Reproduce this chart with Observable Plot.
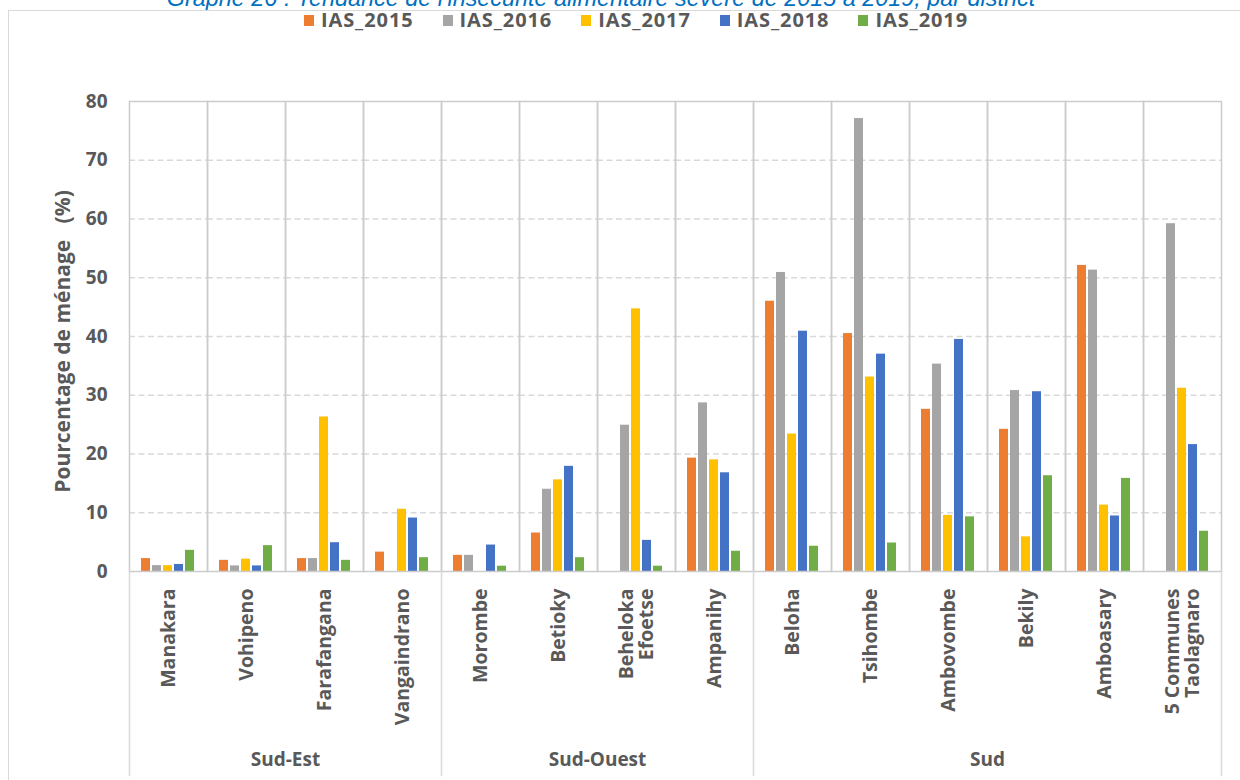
<!DOCTYPE html>
<html>
<head>
<meta charset="utf-8">
<script src="https://cdn.jsdelivr.net/npm/d3@7"></script>
<script src="https://cdn.jsdelivr.net/npm/@observablehq/plot@0.6"></script>
<style>
  html, body { margin: 0; padding: 0; background: #fff; }
  body { width: 1240px; height: 780px; overflow: hidden; position: relative; font-family: "Open Sans", sans-serif; }
  #title { position: absolute; top: -11px; left: 0; width: 1202px; text-align: center; font-family: "Liberation Sans", Arial, sans-serif; font-style: italic; font-size: 23.4px; line-height: 18px; color: #0070c0; white-space: nowrap; }
  #frame { position: absolute; top: 10px; left: 8px; width: 1300px; height: 900px; border: 1.5px solid #d9d9d9; box-sizing: border-box; }
  #legend { position: absolute; top: 11px; left: 32px; width: 1208px; display: flex; justify-content: center; align-items: center; height: 18px; line-height: 18px; font-weight: 700; font-size: 20px; letter-spacing: 0.9px; color: #595959; }
  #legend .item { display: flex; align-items: center; margin-right: 29px; }
  #legend .item:last-child { margin-right: 0; }
  #legend .sw { width: 10px; height: 11px; margin-right: 7px; }
  #chart { position: absolute; top: 35px; left: 0; }
  #chart svg { overflow: visible; }
</style>
</head>
<body>
<div id="title">Graphe 26 : Tendance de l'insécurité alimentaire sévère de 2015 à 2019, par district</div>
<div id="frame"></div>
<div id="legend"></div>
<div id="chart"></div>
<script>
// ---- Data ----
const districts = ["Manakara", "Vohipeno", "Farafangana", "Vangaindrano", "Morombe", "Betioky", "Beheloka Efoetse", "Ampanihy", "Beloha", "Tsihombe", "Ambovombe", "Bekily", "Amboasary", "5 Communes Taolagnaro"];
const districtLabels = ["Manakara", "Vohipeno", "Farafangana", "Vangaindrano", "Morombe", "Betioky", "Beheloka\nEfoetse", "Ampanihy", "Beloha", "Tsihombe", "Ambovombe", "Bekily", "Amboasary", "5 Communes\nTaolagnaro"];
const regions = ["Sud-Est", "Sud-Est", "Sud-Est", "Sud-Est", "Sud-Ouest", "Sud-Ouest", "Sud-Ouest", "Sud-Ouest", "Sud", "Sud", "Sud", "Sud", "Sud", "Sud"];
const series = ["IAS_2015", "IAS_2016", "IAS_2017", "IAS_2018", "IAS_2019"];
const seriesColors = ["#ED7D31", "#A5A5A5", "#FFC000", "#4472C4", "#70AD47"];
const ias2015 = [2.2, 1.9, 2.2, 3.3, 2.75, 6.55, null, 19.3, 46.0, 40.5, 27.6, 24.2, 52.1, null];
const ias2016 = [1.0, 0.95, 2.2, null, 2.75, 14.0, 24.9, 28.7, 50.9, 77.1, 35.3, 30.8, 51.3, 59.2];
const ias2017 = [1.0, 2.1, 26.3, 10.6, null, 15.6, 44.7, 19.0, 23.4, 33.1, 9.55, 5.9, 11.3, 31.2];
const ias2018 = [1.2, 0.95, 4.9, 9.1, 4.5, 17.9, 5.3, 16.8, 40.9, 37.0, 39.5, 30.6, 9.45, 21.6];
const ias2019 = [3.6, 4.4, 1.9, 2.35, 0.9, 2.35, 0.9, 3.45, 4.3, 4.85, 9.3, 16.3, 15.85, 6.85];
const yTicks = [0, 10, 20, 30, 40, 50, 60, 70, 80];
const yTitle = "Pourcentage de ménage \u00a0 (%)";

// ---- Tables built from the arrays ----
const seriesValues = [ias2015, ias2016, ias2017, ias2018, ias2019];
const rows = [];
districts.forEach((d, i) => series.forEach((s, j) => {
  const v = seriesValues[j][i];
  if (v != null) rows.push({district: d, series: s, value: v});
}));
const labelRows = districts.map((d, i) => ({district: d, label: districtLabels[i]}));
const groupNames = Array.from(new Set(regions));
const groups = groupNames.map(name => {
  const members = districts.filter((d, i) => regions[i] === name);
  return {name, members, first: members[0], last: members[members.length - 1], center: members[members.length / 2 - 1]};
});

// ---- Legend ----
const legend = document.getElementById("legend");
series.forEach((s, j) => {
  const it = document.createElement("div");
  it.className = "item";
  it.innerHTML = `<div class="sw" style="background:${seriesColors[j]}"></div><span>${s}</span>`;
  legend.appendChild(it);
});

// ---- Chart ----
const textColor = "#595959";
const lineColor = "#cccccc";
const sepMarks = groups.map(g => Plot.frame({anchor: "left", fx: () => g.first, insetTop: 470, insetBottom: -204, stroke: "#d9d9d9", strokeWidth: 1.5}));
sepMarks.push(Plot.frame({anchor: "right", fx: () => groups[groups.length - 1].last, insetTop: 470, insetBottom: -204, stroke: "#d9d9d9", strokeWidth: 1.5}));

const chart = Plot.plot({
  width: 1240,
  height: 745,
  marginLeft: 128,
  marginRight: 18,
  marginTop: 66,
  marginBottom: 209,
  style: {background: "transparent", color: textColor, fontFamily: "'Open Sans', sans-serif"},
  fx: {domain: districts, padding: 0, axis: null},
  x: {domain: series, paddingInner: 0.14, paddingOuter: 0.93, axis: null},
  y: {domain: [0, 80], axis: null},
  color: {domain: series, range: seriesColors},
  marks: [
    Plot.gridY(yTicks.filter(t => t > 0 && t < 80), {stroke: "#d9d9d9", strokeOpacity: 1, strokeWidth: 1.5, strokeDasharray: "6,3.5"}),
    Plot.barY(rows, {fx: "district", x: "series", y: "value", fill: "series"}),
    Plot.frame({stroke: lineColor, strokeWidth: 1.5}),
    ...sepMarks,
    Plot.axisY(yTicks, {tickSize: 0, tickPadding: 22, fontSize: 19, fontWeight: "bold", fill: textColor, label: null}),
    Plot.text([yTitle], {facetAnchor: "left", frameAnchor: "left", textAnchor: "middle", lineAnchor: "middle", rotate: -90, dx: -66, dy: 5, fontSize: 21, fontWeight: "bold", fill: textColor}),
    Plot.text(labelRows, {fx: "district", text: "label", frameAnchor: "bottom", rotate: -90, textAnchor: "end", lineAnchor: "middle", dy: 17, fontSize: 19.5, fontWeight: "bold", fill: textColor}),
    Plot.text(groups, {fx: "center", text: "name", frameAnchor: "bottom-right", textAnchor: "middle", lineAnchor: "middle", dy: 188, fontSize: 19, fontWeight: "bold", fill: textColor})
  ]
});
document.getElementById("chart").appendChild(chart);
</script>
</body>
</html>
